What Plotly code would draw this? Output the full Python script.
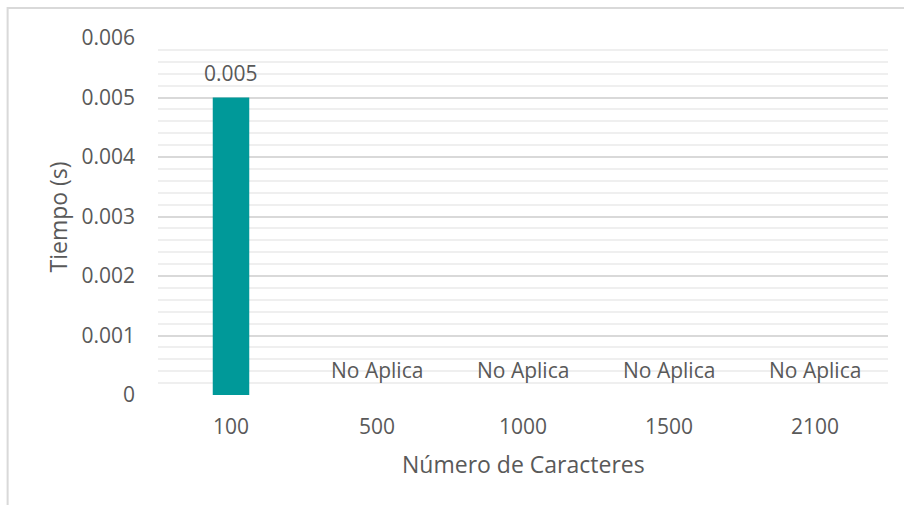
import plotly.graph_objects as go

# Processing time per input size
caracteres = ["100", "500", "1000", "1500", "2100"]
tiempo_s = [0.005, 0, 0, 0, 0]
etiquetas = ["0.005", "No Aplica", "No Aplica", "No Aplica", "No Aplica"]
y_ticks = [0, 0.001, 0.002, 0.003, 0.004, 0.005, 0.006]
y_tick_text = ["0", "0.001", "0.002", "0.003", "0.004", "0.005", "0.006"]

TEXT = "#595959"
FONT = "Open Sans"
SIZE = 21
TITLE_SIZE = 23

# one slot per category along the x axis
posiciones = list(range(len(caracteres)))

fig = go.Figure()
fig.add_trace(go.Bar(
    x=posiciones,
    y=tiempo_s,
    width=0.25,
    marker=dict(color="#009999", line=dict(width=0)),
    hoverinfo="skip",
))

# Value labels above each bar
for pos, val, lab in zip(posiciones, tiempo_s, etiquetas):
    fig.add_annotation(
        x=pos, y=val, text=lab, showarrow=False,
        xref="x", yref="y", yanchor="middle", yshift=25,
        font=dict(family=FONT, size=SIZE, color=TEXT),
    )

# Axis titles
fig.add_annotation(
    text="Tiempo (s)", xref="paper", yref="paper", x=-0.137, y=0.5,
    xanchor="center", yanchor="middle", textangle=-90, showarrow=False,
    font=dict(family=FONT, size=TITLE_SIZE, color=TEXT),
)
fig.add_annotation(
    text="Número de Caracteres", xref="paper", yref="paper", x=0.5, y=-0.193,
    xanchor="center", yanchor="middle", showarrow=False,
    font=dict(family=FONT, size=TITLE_SIZE, color=TEXT),
)

fig.update_layout(
    width=904, height=505,
    margin=dict(l=158, r=16, t=38, b=110),
    paper_bgcolor="white", plot_bgcolor="white",
    showlegend=False,
    font=dict(family=FONT, size=SIZE, color=TEXT),
    yaxis=dict(
        range=[0, 0.006],
        tickvals=y_ticks, ticktext=y_tick_text,
        showgrid=True, gridcolor="#d9d9d9", gridwidth=1.5,
        zeroline=False, showline=False, ticks="",
        ticklabelstandoff=22,
        tickfont=dict(size=SIZE, color=TEXT),
        minor=dict(dtick=0.0002, showgrid=True, gridcolor="#efefef", gridwidth=1.5),
    ),
    xaxis=dict(
        range=[-0.5, len(caracteres) - 0.5],
        tickvals=posiciones, ticktext=caracteres,
        showgrid=False, zeroline=False, showline=False,
        ticks="", tickfont=dict(size=SIZE, color=TEXT),
        ticklabelstandoff=17,
    ),
)

# Chart frame (top and left edges fall inside the page)
fig.add_shape(
    type="rect", xref="paper", yref="paper",
    x0=-0.206, x1=1.2, y0=-0.5, y1=1.084,
    line=dict(color="#d9d9d9", width=2), fillcolor="rgba(0,0,0,0)", layer="below",
)

fig.write_html("out.html")
